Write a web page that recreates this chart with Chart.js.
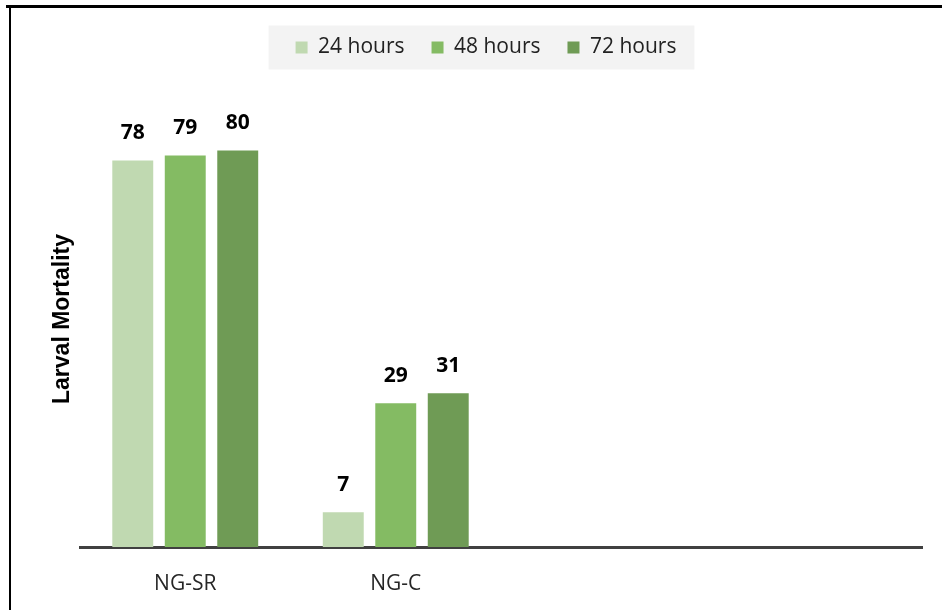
<!DOCTYPE html>
<html>
<head>
<meta charset="utf-8">
<script src="https://cdn.jsdelivr.net/npm/chart.js@4/dist/chart.umd.min.js"></script>
<style>
  html, body { margin: 0; padding: 0; background: #fff; }
  #wrap { position: relative; width: 942px; height: 610px; }
</style>
</head>
<body>
<div id="wrap"><canvas id="c" width="942" height="610"></canvas></div>
<script>
const categories = ['NG-SR', 'NG-C', '', ''];
const seriesNames = ['24 hours', '48 hours', '72 hours'];
const hours24 = [78, 7, null, null];
const hours48 = [79, 29, null, null];
const hours72 = [80, 31, null, null];
const seriesColors = ['#c0d9b1', '#84bb63', '#6f9b55'];
const yTitle = 'Larval Mortality';

const frame = {
  id: 'frame',
  beforeDraw(chart) {
    const ctx = chart.ctx;
    ctx.save();
    ctx.fillStyle = '#fff';
    ctx.fillRect(0, 0, chart.width, chart.height);
    ctx.fillStyle = '#000';
    ctx.fillRect(6, 5, chart.width - 6, 3);
    ctx.fillRect(9, 5, 2, chart.height - 5);
    const lg = chart.legend;
    if (lg && lg.legendHitBoxes && lg.legendHitBoxes.length) {
      const hb = lg.legendHitBoxes;
      const first = hb[0], last = hb[hb.length - 1];
      const cy = first.top + first.height / 2;
      const l = first.left - 27, r = last.left + last.width + 18;
      ctx.fillStyle = '#f3f3f3';
      ctx.fillRect(l, cy - 22, r - l, 44);
    }
    ctx.restore();
  }
};

const valueLabels = {
  id: 'valueLabels',
  afterDatasetsDraw(chart) {
    const ctx = chart.ctx;
    ctx.save();
    ctx.font = 'bold 21px "Open Sans"';
    ctx.fillStyle = '#000';
    ctx.textAlign = 'center';
    ctx.textBaseline = 'alphabetic';
    chart.data.datasets.forEach((ds, i) => {
      const meta = chart.getDatasetMeta(i);
      meta.data.forEach((el, j) => {
        const v = ds.data[j];
        if (v === null || v === undefined) return;
        ctx.fillText(String(v), el.x, el.y - 21);
      });
    });
    ctx.restore();
  }
};

new Chart(document.getElementById('c'), {
  type: 'bar',
  data: {
    labels: categories,
    datasets: [
      { label: seriesNames[0], data: hours24, backgroundColor: seriesColors[0] },
      { label: seriesNames[1], data: hours48, backgroundColor: seriesColors[1] },
      { label: seriesNames[2], data: hours72, backgroundColor: seriesColors[2] }
    ]
  },
  options: {
    responsive: false,
    animation: false,
    events: [],
    categoryPercentage: 0.748,
    barPercentage: 0.78,
    layout: { padding: { top: 10, left: 50, right: 20, bottom: 0 } },
    plugins: {
      tooltip: { enabled: false },
      legend: {
        position: 'top',
        labels: {
          boxWidth: 12,
          boxHeight: 12,
          padding: 27,
          color: '#222',
          font: { family: '"Open Sans"', size: 21 }
        }
      },
      subtitle: {
        display: true,
        text: '',
        weight: 500,
        position: 'top',
        padding: { top: 22, bottom: 0 },
        font: { size: 1, lineHeight: 1 }
      }
    },
    scales: {
      x: {
        grid: { display: false, drawTicks: false },
        border: { display: true, color: '#404040', width: 3 },
        ticks: { color: '#262626', padding: 24, font: { family: '"Open Sans"', size: 21 } },
        afterFit(s) { s.height = 63; }
      },
      y: {
        min: 0,
        max: 92,
        grid: { display: false, drawTicks: false },
        border: { display: false },
        ticks: { display: false },
        title: {
          display: true,
          text: yTitle,
          color: '#000',
          padding: { top: -1, bottom: 0 },
          font: { family: '"Liberation Sans"', size: 23, weight: 'bold' }
        },
        afterFit(s) { s.width = 30; }
      }
    }
  },
  plugins: [frame, valueLabels]
});
</script>
</body>
</html>
